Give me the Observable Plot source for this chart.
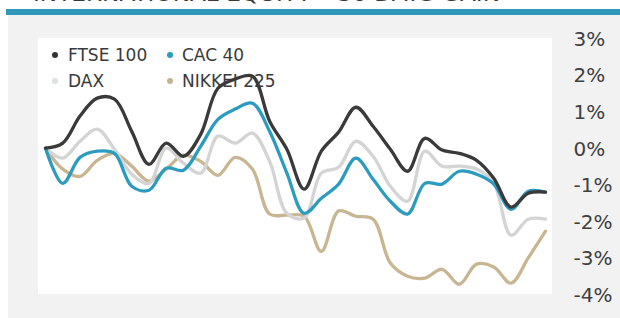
<!DOCTYPE html>
<html>
<head>
<meta charset="utf-8">
<script src="https://cdn.jsdelivr.net/npm/d3@7"></script>
<script src="https://cdn.jsdelivr.net/npm/@observablehq/plot@0.6"></script>
<style>
  html, body { margin: 0; padding: 0; background: #ffffff; }
  #wrap { position: relative; width: 620px; height: 318px; overflow: hidden; font-family: "DejaVu Sans", sans-serif; }
  #title { position: absolute; left: 0; top: 0; }
  #band { position: absolute; left: 6px; top: 9px; width: 614px; height: 6px; background: #2e98bb; }
  #bg { position: absolute; left: 8px; top: 15px; width: 612px; height: 303px; background: #f2f2f2; }
  #panel { position: absolute; left: 38px; top: 38px; width: 514px; height: 256px; background: #ffffff; }
  .lg { position: absolute; font-size: 17px; color: #3a3a3a; line-height: 20px; white-space: nowrap; }
  .dot { position: absolute; width: 6px; height: 6px; border-radius: 50%; }
  #chart { position: absolute; left: 0; top: 0; }
</style>
</head>
<body>
<div id="wrap">
  <svg id="title" width="620" height="10"><text id="titleText" x="33" y="0.5" textLength="467" lengthAdjust="spacingAndGlyphs" font-family="DejaVu Sans" font-size="22" fill="#3a3a3a"></text></svg>
  <div id="band"></div>
  <div id="bg"></div>
  <div id="panel"></div>
  <div id="legend"></div>
  <div id="chart"></div>
</div>
<script>
const titleText = "INTERNATIONAL EQUITY – 30 DAYS GAIN";
const seriesNames = ["FTSE 100", "CAC 40", "DAX", "NIKKEI 225"];
const lineColors = ["#3a3a3a", "#2b9bc0", "#d4d4d4", "#c8b591"];
const dotColors = ["#333333", "#2b9bc0", "#dde1e4", "#c5b38f"];
const days = [1,2,3,4,5,6,7,8,9,10,11,12,13,14,15,16,17,18,19,20,21,22,23,24,25,26,27,28,29,30];
const ftse = [0.00,0.14,0.88,1.37,1.34,0.46,-0.44,0.14,-0.22,0.38,1.64,1.89,1.97,0.74,-0.03,-1.12,-0.08,0.44,1.12,0.60,-0.03,-0.63,0.27,-0.05,-0.14,-0.33,-0.82,-1.61,-1.23,-1.20];
const cac = [0.00,-0.96,-0.25,-0.08,-0.14,-1.04,-1.15,-0.55,-0.60,0.05,0.79,1.07,1.23,0.46,-0.68,-1.78,-1.37,-0.98,-0.27,-0.85,-1.45,-1.80,-0.96,-0.98,-0.63,-0.71,-0.98,-1.67,-1.18,-1.20];
const dax = [0.00,-0.27,0.19,0.52,-0.03,-0.71,-0.96,0.00,-0.41,-0.68,0.33,0.14,0.41,-0.36,-1.78,-1.91,-0.68,-0.52,0.19,-0.22,-1.04,-1.45,-0.08,-0.49,-0.49,-0.57,-0.96,-2.38,-1.94,-1.94];
const nikkei = [0.00,-0.57,-0.77,-0.33,-0.14,-0.49,-0.90,-0.57,-0.19,-0.36,-0.74,-0.25,-0.57,-1.80,-1.83,-1.86,-2.82,-1.72,-1.86,-1.94,-3.14,-3.50,-3.55,-3.31,-3.72,-3.17,-3.25,-3.69,-3.00,-2.27];
const yTicks = [3, 2, 1, 0, -1, -2, -3, -4];
const yTickLabels = ["3%", "2%", "1%", "0%", "-1%", "-2%", "-3%", "-4%"];

document.getElementById("titleText").textContent = titleText;

const valuesBySeries = [ftse, cac, dax, nikkei];
// draw order: last legend entry first, FTSE on top
const drawOrder = [3, 2, 1, 0];
const rows = drawOrder.flatMap(si => days.map((d, i) => ({series: seriesNames[si], day: d, value: valuesBySeries[si][i]})));

// legend (HTML, beneath the lines)
const legend = document.getElementById("legend");
const lgCols = [[55, 68], [170, 182]];
const lgRows = [55, 81];
seriesNames.forEach((name, i) => {
  const c = i % 2, r = Math.floor(i / 2);
  const dot = document.createElement("div");
  dot.className = "dot";
  dot.style.left = (lgCols[c][0] - 3) + "px";
  dot.style.top = (lgRows[r] - 3) + "px";
  dot.style.background = dotColors[i];
  legend.appendChild(dot);
  const t = document.createElement("div");
  t.className = "lg";
  t.textContent = name;
  t.style.left = lgCols[c][1] + "px";
  t.style.top = (lgRows[r] - 10) + "px";
  legend.appendChild(t);
});

const chart = Plot.plot({
  width: 620,
  height: 318,
  marginTop: 38,
  marginBottom: 24,
  marginLeft: 38,
  marginRight: 68,
  style: {background: "transparent", fontFamily: "DejaVu Sans, sans-serif", fontSize: "20px", color: "#404040"},
  x: {domain: [days[0], days[days.length - 1]], insetLeft: 7, insetRight: 7, axis: null},
  y: {domain: [-4, 3], axis: null},
  color: {domain: seriesNames, range: lineColors},
  marks: [
    Plot.axisY({anchor: "right", ticks: yTicks, tickFormat: (d) => yTickLabels[yTicks.indexOf(d)], tickSize: 0, tickPadding: 21, fontSize: 20, fill: "#404040", dy: 1, label: null}),
    Plot.line(rows, {x: "day", y: "value", z: "series", stroke: "series", strokeWidth: 3.3, curve: "catmull-rom", strokeLinejoin: "round", strokeLinecap: "round"})
  ]
});
document.getElementById("chart").appendChild(chart);
</script>
</body>
</html>
